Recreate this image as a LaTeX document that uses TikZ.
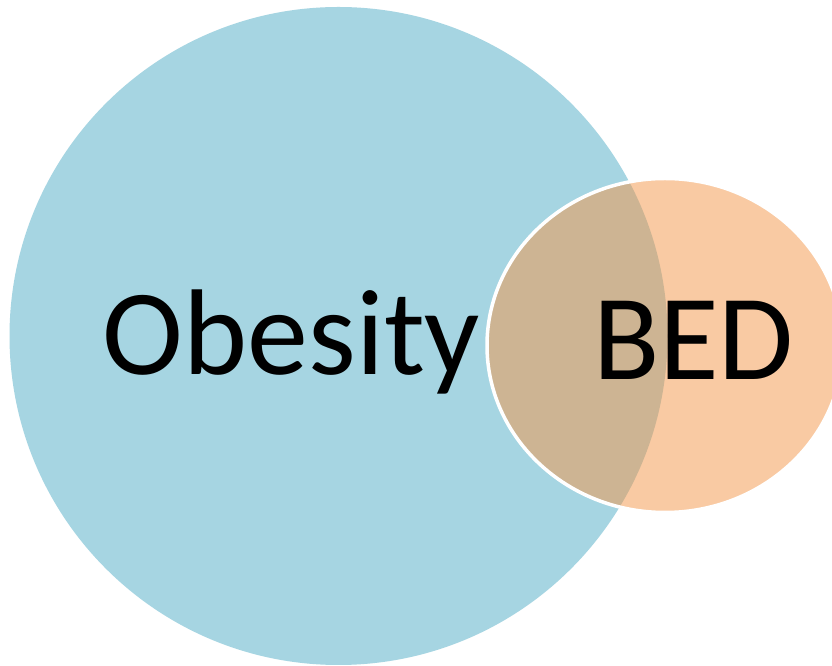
\documentclass[tikz,border=0pt]{standalone}
\usepackage{fontspec}
\setmainfont{Carlito}
\definecolor{obblue}{HTML}{A6D5E2}
\definecolor{bedorange}{HTML}{F9CAA3}
\definecolor{overlaptan}{HTML}{CDB493}
\begin{document}
\begin{tikzpicture}[x=1pt,y=1pt,
  lbl/.style={font=\fontsize{122}{140}\selectfont, text=black, inner sep=0pt, anchor=base}]
\useasboundingbox (0,0) rectangle (832,666);
\fill[white] (0,0) rectangle (832,666);
% circles
\fill[obblue] (338.5,330) circle[radius=329];
\fill[bedorange] (665,320.5) ellipse[x radius=178, y radius=167];
\begin{scope}
  \clip (338.5,330) circle[radius=329];
  \fill[overlaptan] (665,320.5) ellipse[x radius=178, y radius=167];
\end{scope}
\draw[white, line width=3.5] (665,320.5) ellipse[x radius=178, y radius=167];
\node[lbl] (obesity) at (291.5,291) {Obesity};
\node[lbl] (bed) at (693.5,286) {BED};
\end{tikzpicture}
\end{document}
